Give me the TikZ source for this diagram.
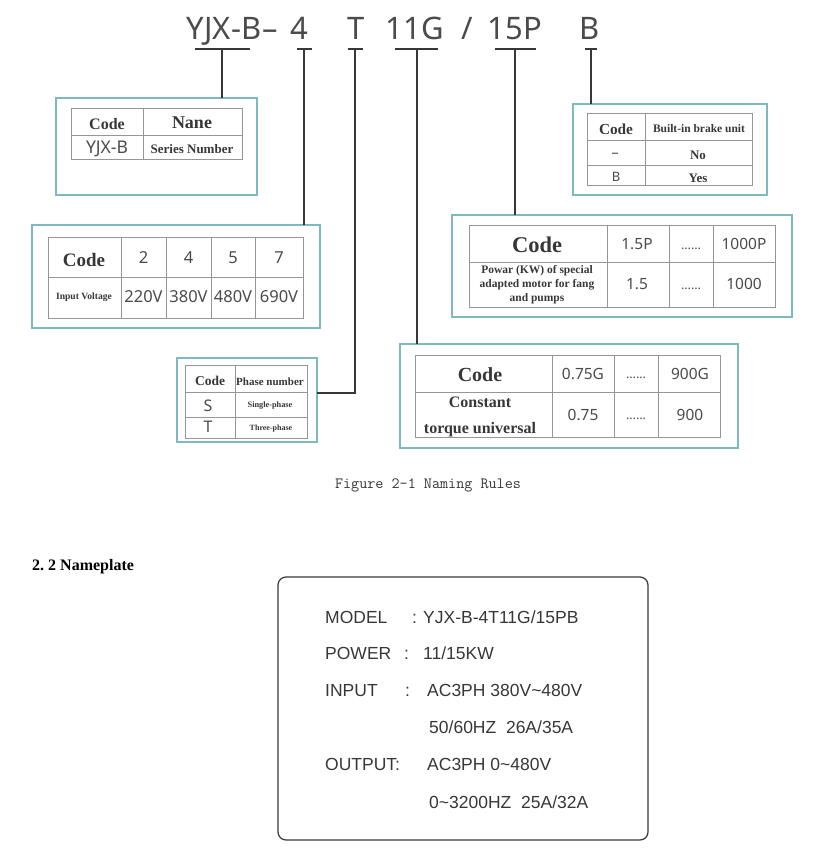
\documentclass[tikz,border=0pt]{standalone}
\usepackage{fontspec}
\usepackage{xcolor}
\usetikzlibrary{positioning}
\newfontfamily\notosans{Noto Sans}
\newfontfamily\platesans{Liberation Sans}
\newfontfamily\cellserif{Liberation Serif}
\definecolor{frameteal}{RGB}{125,185,195}
\definecolor{gridgray}{RGB}{150,150,150}
\definecolor{inkgray}{RGB}{55,55,55}
\definecolor{codegray}{RGB}{75,75,75}
\begin{document}
\begin{tikzpicture}[x=1pt,y=-1pt,
    frame/.style={draw=frameteal,line width=1.5pt,anchor=north west,inner sep=0pt,outer sep=0pt},
    grid/.style={draw=gridgray,line width=0.7pt},
    link/.style={draw=inkgray,line width=1.2pt},
    codetxt/.style={font=\notosans\fontsize{#1}{#1}\selectfont,text=codegray,inner sep=0pt},
    celltxt/.style={font=\cellserif\bfseries\fontsize{#1}{#1}\selectfont,text=inkgray,inner sep=0pt,align=center},
    dots/.style={font=\notosans\fontsize{12.5}{12.5}\selectfont,text=codegray,inner sep=0pt,anchor=base},
    plate/.style={font=\platesans\fontsize{17.5}{17.5}\selectfont,text=inkgray,inner sep=0pt,anchor=base west}]
  \useasboundingbox (0,0) rectangle (813,866);

  % model code
  \begin{scope}[every node/.style={codetxt=31,anchor=base}]
    \node (nser) at (224,40) {YJX-B};
    \node (ndash) at (270,40) {–};
    \node (nvolt) at (299,40) {4};
    \node (nphase) at (356,40) {T};
    \node (ntorq) at (415,40) {11G};
    \node (nslash) at (467,40) {/};
    \node (npump) at (515,40) {15P};
    \node (nbrake) at (590,40) {B};
  \end{scope}

  % frames
  \node[frame,minimum width=201pt,minimum height=97pt] (fser) at (56,98) {};
  \node[frame,minimum width=288pt,minimum height=103pt] (fvolt) at (32,225) {};
  \node[frame,minimum width=194pt,minimum height=91pt] (fbrake) at (573,104) {};
  \node[frame,minimum width=340pt,minimum height=102pt] (fpump) at (452,215) {};
  \node[frame,minimum width=338pt,minimum height=104pt] (ftorq) at (400,344) {};
  \node[frame,minimum width=140pt,minimum height=84pt] (fphase) at (177,358) {};

  % bars and stems
  \coordinate (tser) at (222,49);
  \coordinate (tvolt) at (304,49);
  \coordinate (tphase) at (355,49);
  \coordinate (ttorq) at (417,49);
  \coordinate (tpump) at (515,49);
  \coordinate (tbrake) at (591,49);
  \coordinate (kphase) at (355,393);
  \draw[link] (195,49) -- (250,49) (297,49) -- (312,49) (348,49) -- (363,49)
              (395,49) -- (438,49) (495,49) -- (536,49) (585,49) -- (597,49);
  \draw[link] (tser) -- (tser |- fser.north);
  \draw[link] (tvolt) -- (tvolt |- fvolt.north);
  \draw[link] (ttorq) -- (ttorq |- ftorq.north);
  \draw[link] (tpump) -- (tpump |- fpump.north);
  \draw[link] (tbrake) -- (tbrake |- fbrake.north);
  \draw[link] (tphase) -- (kphase) -- (kphase -| fphase.east);

  % series table
  \draw[grid] (71,108) rectangle (242,159) (71,135) -- (242,135) (143,108) -- (143,159);
  \node[celltxt=16] (sercode) at (107,124) {Code};
  \node[celltxt=18] (sername) at (192,123) {Nane};
  \node[codetxt=17.5] (serval) at (107,149) {YJX-B};
  \node[celltxt=13] (serdesc) at (192,149) {Series Number};

  % voltage table
  \draw[grid] (48,237) rectangle (303,318) (48,277) -- (303,277);
  \foreach \x in {121,166,211,255} \draw[grid] (\x,237) -- (\x,318);
  \node[celltxt=19] (voltcode) at (84,260) {Code};
  \node[celltxt=9.6] (voltdesc) at (84,297) {Input Voltage};
  \foreach \x/\c/\v [count=\i] in {143.5/2/220V,188.5/4/380V,233/5/480V,279/7/690V}{
    \node[codetxt=16.5] (voltc\i) at (\x,258) {\c};
    \node[codetxt=16.5] (voltv\i) at (\x,297) {\v};
  }

  % brake table
  \draw[grid] (587,113) rectangle (752,185) (587,140) -- (752,140) (587,165) -- (752,165)
              (645,113) -- (645,185);
  \node[celltxt=15.3] (brkcode) at (616,129) {Code};
  \node[celltxt=11.5] (brkdesc) at (699,129) {Built-in brake unit};
  \node[codetxt=14,anchor=base] (brkc1) at (615,158) {–};
  \node[celltxt=13] (brkv1) at (698,155) {No};
  \node[codetxt=13] (brkc2) at (616,177) {B};
  \node[celltxt=13] (brkv2) at (698,178) {Yes};

  % pump power table
  \draw[grid] (469,225) rectangle (775,307) (469,262) -- (775,262);
  \foreach \x in {607,669,713} \draw[grid] (\x,225) -- (\x,307);
  \node[celltxt=22.5] (pmpcode) at (537,245) {Code};
  \node[celltxt=11.5,font=\cellserif\bfseries\fontsize{11.5}{14}\selectfont] (pmpdesc) at (537,285)
    {Powar (KW) of special\\adapted motor for fang\\and pumps};
  \node[codetxt=15.5] (pmpc1) at (637,244) {1.5P};
  \node[dots] (pmpc2) at (691,250) {……};
  \node[codetxt=15.5] (pmpc3) at (744,244) {1000P};
  \node[codetxt=15.5] (pmpv1) at (637,284) {1.5};
  \node[dots] (pmpv2) at (691,289) {……};
  \node[codetxt=15.5] (pmpv3) at (744,284) {1000};

  % torque table
  \draw[grid] (415,355) rectangle (720,437) (415,392) -- (720,392);
  \foreach \x in {552,614,658} \draw[grid] (\x,355) -- (\x,437);
  \node[celltxt=20] (trqcode) at (480,375) {Code};
  \node[celltxt=16,font=\cellserif\bfseries\fontsize{16}{26}\selectfont] (trqdesc) at (480,417)
    {Constant\\torque universal};
  \node[codetxt=15.5] (trqc1) at (583,374) {0.75G};
  \node[dots] (trqc2) at (636,378) {……};
  \node[codetxt=15.5] (trqc3) at (690,374) {900G};
  \node[codetxt=15.5] (trqv1) at (583,415) {0.75};
  \node[dots] (trqv2) at (636,419) {……};
  \node[codetxt=15.5] (trqv3) at (690,415) {900};

  % phase table
  \draw[grid] (185,365) rectangle (307,438) (185,392) -- (307,392) (185,417) -- (307,417)
              (235,365) -- (235,438);
  \node[celltxt=13.5] (phscode) at (210,381) {Code};
  \node[celltxt=11] (phsdesc) at (270,382) {Phase number};
  \node[codetxt=16] (phsc1) at (208,406) {S};
  \node[celltxt=8.3] (phsv1) at (270,406) {Single-phase};
  \node[codetxt=16] (phsc2) at (208,427) {T};
  \node[celltxt=8] (phsv2) at (271,429) {Three-phase};

  % caption and heading
  \node[font=\ttfamily\fontsize{15.7}{15.7}\selectfont,text=inkgray,inner sep=0pt,anchor=base]
    (caption) at (428,488) {Figure 2-1 Naming Rules};
  \node[font=\cellserif\bfseries\fontsize{16}{16}\selectfont,text=black,inner sep=0pt,anchor=base west]
    (heading) at (32,570) {2.~2 Nameplate};

  % nameplate
  \draw[draw=inkgray,line width=1.2pt,rounded corners=8pt] (278,577) rectangle (648,840);
  \node[plate] (pmodel) at (325,623) {MODEL};
  \node[plate] (pmodelc) at (412,623) {:};
  \node[plate] (pmodelv) at (423,623) {YJX-B-4T11G/15PB};
  \node[plate] (ppower) at (325,659) {POWER};
  \node[plate] (ppowerc) at (404,659) {:};
  \node[plate] (ppowerv) at (423,659) {11/15KW};
  \node[plate] (pinput) at (325,696) {INPUT};
  \node[plate] (pinputc) at (405,696) {:};
  \node[plate] (pinputv) at (427,696) {AC3PH 380V\textasciitilde480V};
  \node[plate] (pinputw) at (429,733) {50/60HZ\ \ 26A/35A};
  \node[plate] (poutput) at (325,770) {OUTPUT:};
  \node[plate] (poutputv) at (427,770) {AC3PH 0\textasciitilde480V};
  \node[plate] (poutputw) at (429,808) {0\textasciitilde3200HZ\ \ 25A/32A};
\end{tikzpicture}
\end{document}
